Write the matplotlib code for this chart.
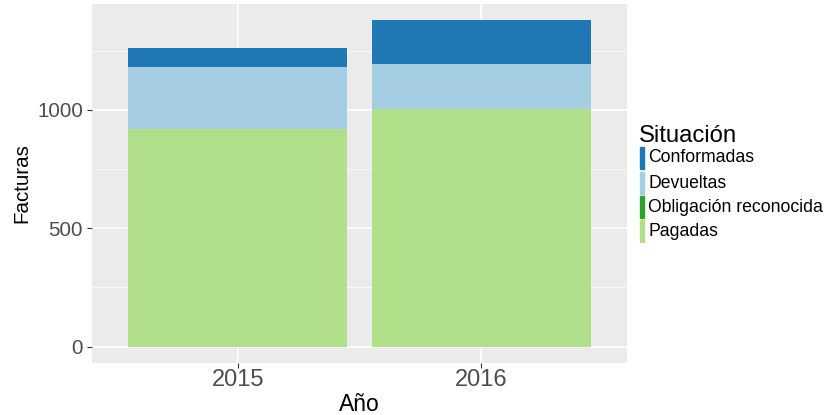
import numpy as np
import matplotlib.pyplot as plt
from matplotlib.patches import Rectangle

plt.rcParams['font.family'] = ['Liberation Sans', 'DejaVu Sans']

# data
years = ['2015', '2016']
situaciones = ['Conformadas', 'Devueltas', 'Obligación reconocida', 'Pagadas']
pagadas = [918, 1005]
obligacion = [0, 0]
devueltas = [263, 190]
conformadas = [82, 183]
colores = ['#1F78B4', '#A6CEE3', '#33A02C', '#B2DF8A']

fig = plt.figure(figsize=(8.26, 4.15), dpi=100)
ax = fig.add_axes([92/826, 1-363/415, 535/826, 359/415])
ax.set_facecolor('#EBEBEB')

x = np.arange(1, len(years) + 1)
# stack from bottom: Pagadas, Obligacion, Devueltas, Conformadas
capas = [pagadas, obligacion, devueltas, conformadas]
col_capas = [colores[3], colores[2], colores[1], colores[0]]
base = np.zeros(len(years))
for vals, c in zip(capas, col_capas):
    ax.bar(x, vals, width=0.9, bottom=base, color=c, zorder=3)
    base = base + np.array(vals)

ax.set_xlim(0.4, 2.6)
ax.set_ylim(-69, 1447)
ax.set_xticks(x)
ax.set_xticklabels(years)
ax.set_yticks([0, 500, 1000])
ax.set_yticks([250, 750, 1250], minor=True)
ax.grid(which='major', color='white', linewidth=1.1, zorder=0)
ax.grid(which='minor', color='white', linewidth=0.5, zorder=0)
ax.set_axisbelow(True)
for s in ax.spines.values():
    s.set_visible(False)
ax.tick_params(which='major', length=3.5, width=0.8, color='#333333',
               labelcolor='#4D4D4D')
ax.tick_params(axis='x', labelsize=17, pad=1)
ax.tick_params(axis='y', labelsize=14.8, pad=3)
ax.tick_params(which='minor', length=0)

ax.set_xlabel('Año', fontsize=16.5, labelpad=1)
ax.set_ylabel('Facturas', fontsize=14.8, labelpad=4)

# legend
fig.text(639/826, 1-136/415, 'Situación', fontsize=17.2, va='center', ha='left')
filas = [158, 183, 207, 231]
for nombre, c, yy in zip(situaciones, colores, filas):
    fig.add_artist(Rectangle((640/826, 1-(yy+11)/415), 4/826, 22/415,
                             transform=fig.transFigure, color=c))
    fig.text(648/826, 1-yy/415, nombre, fontsize=12.7, va='center', ha='left')

plt.savefig('out.png', dpi=100)
